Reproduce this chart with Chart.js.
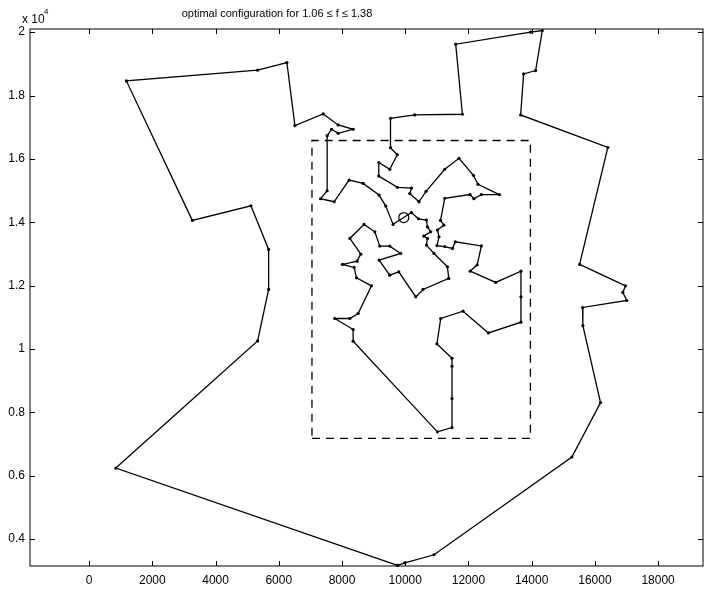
<!DOCTYPE html>
<html>
<head>
<meta charset="utf-8">
<script src="https://cdn.jsdelivr.net/npm/chart.js@4"></script>
<style>
html, body { margin: 0; padding: 0; background: #fff; }
</style>
</head>
<body>
<canvas id="chart" width="704" height="589"></canvas>
<script>
// tour through the cities, closed (last point = first point)
const tourX = [
    9755, 844, 5331, 5679, 5679, 5119, 3264, 1179, 5331, 6257,
    6510, 7404, 7878, 8352, 7878, 7669, 7530, 7530, 7322, 7751,
    8225, 8668, 9173, 9385, 9616, 10197, 10419, 10671, 10703, 10807,
    10586, 10703, 10671, 10911, 11335, 11376, 10564, 10333, 9796, 9512,
    9173, 9859, 9512, 9196, 9038, 8699, 8248, 8595, 8478, 8017,
    8383, 8459, 8933, 8510, 8248, 7774, 8352, 8352, 11019, 11480,
    11480, 11480, 11480, 11003, 11123, 11828, 12631, 13661, 13661, 13661,
    12861, 12055, 12277, 12409, 11581, 11496, 11250, 11003, 11069, 11019,
    11224, 11117, 11250, 12049, 12172, 12409, 12978, 12302, 12157, 11701,
    11250, 10659, 10434, 10144, 10200, 9755, 9164, 9164, 9512, 9749,
    9534, 9534, 10302, 11809, 11597, 13967, 14337, 14125, 13746, 13651,
    16410, 15516, 16969, 16884, 17010, 15610, 15620, 16179, 15272, 10911,
    9990, 9755
];
const tourY = [
    3167, 6241, 10255, 11879, 13143, 14521, 14059, 18461, 18799, 19039,
    17049, 17418, 17071, 16935, 16808, 16935, 16733, 14995, 14742, 14647,
    15333, 15228, 14859, 14511, 13933, 14306, 14110, 14069, 13857, 13699,
    13563, 13490, 13279, 13016, 12593, 12226, 11879, 11645, 12435, 12331,
    12805, 13016, 13247, 13247, 13699, 13933, 13490, 12994, 12773, 12669,
    12574, 12245, 11993, 11120, 10962, 10962, 10615, 10245, 7385, 7518,
    8434, 9455, 9708, 10160, 10962, 11193, 10507, 10845, 11645, 12457,
    12100, 12457, 12656, 13253, 13383, 13174, 13231, 13263, 13541, 13753,
    13911, 14059, 14754, 14874, 14742, 14874, 14874, 15200, 15481, 16018,
    15671, 14976, 14644, 14906, 15080, 15102, 15459, 15886, 15671, 16132,
    16353, 17282, 17387, 17409, 19621, 20000, 20051, 18787, 18682, 17387,
    16360, 12669, 11993, 11784, 11531, 11310, 10735, 8308, 6589, 3505,
    3250, 3167
];

// dashed inner region
const boxX = [7050, 13960, 13960, 7050, 7050];
const boxY = [7180, 7180, 16580, 16580, 7180];

// start city (circle marker)
const depotX = [9954];
const depotY = [14148];

const xTicks = [0, 2000, 4000, 6000, 8000, 10000, 12000, 14000, 16000, 18000];
const yTicks = [4000, 6000, 8000, 10000, 12000, 14000, 16000, 18000, 20000];
const yTickLabels = ['0.4', '0.6', '0.8', '1', '1.2', '1.4', '1.6', '1.8', '2'];

const titleText = 'optimal configuration for 1.06 \u2264 f \u2264 1.38';
const FONT = '"Liberation Sans", Arial, Helvetica, sans-serif';

const toPoints = (xs, ys) => xs.map((x, i) => ({ x: x, y: ys[i] }));

// MATLAB-like box with inward ticks, title and exponent label
const framePlugin = {
    id: 'frame',
    afterDraw(chart) {
        const ctx = chart.ctx;
        const a = chart.chartArea;
        const xs = chart.scales.x;
        const ys = chart.scales.y;
        const tl = 5;

        ctx.save();
        ctx.strokeStyle = '#000';
        ctx.lineWidth = 1;
        ctx.strokeRect(a.left, a.top, a.right - a.left, a.bottom - a.top);

        ctx.beginPath();
        xTicks.forEach(v => {
            const px = Math.round(xs.getPixelForValue(v)) + 0.5;
            ctx.moveTo(px, a.bottom);
            ctx.lineTo(px, a.bottom - tl);
            ctx.moveTo(px, a.top);
            ctx.lineTo(px, a.top + tl);
        });
        yTicks.forEach(v => {
            const py = Math.round(ys.getPixelForValue(v)) + 0.5;
            ctx.moveTo(a.left, py);
            ctx.lineTo(a.left + tl, py);
            ctx.moveTo(a.right, py);
            ctx.lineTo(a.right - tl, py);
        });
        ctx.stroke();

        ctx.fillStyle = '#000';
        ctx.textBaseline = 'alphabetic';
        ctx.textAlign = 'center';
        ctx.font = '11px ' + FONT;
        ctx.fillText(titleText, 277, 17);

        ctx.textAlign = 'left';
        ctx.font = '12px ' + FONT;
        ctx.fillText('x 10', 22, 23);
        ctx.font = '8px ' + FONT;
        ctx.fillText('4', 44, 14);
        ctx.restore();
    }
};

new Chart(document.getElementById('chart'), {
    type: 'scatter',
    data: {
        datasets: [
            {
                data: toPoints(tourX, tourY),
                showLine: true,
                borderColor: '#000',
                borderWidth: 1.3,
                pointRadius: 1.6,
                pointBackgroundColor: '#000',
                pointBorderWidth: 0,
                tension: 0,
                clip: false
            },
            {
                data: toPoints(boxX, boxY),
                showLine: true,
                borderColor: '#000',
                borderWidth: 1.3,
                borderDash: [8, 6],
                pointRadius: 0,
                tension: 0
            },
            {
                data: toPoints(depotX, depotY),
                pointRadius: 5,
                pointBackgroundColor: 'rgba(0,0,0,0)',
                pointBorderColor: '#000',
                pointBorderWidth: 1.2
            }
        ]
    },
    options: {
        responsive: false,
        animation: false,
        devicePixelRatio: 1,
        layout: {
            autoPadding: false,
            padding: { top: 29, right: 1, left: 0, bottom: 0 }
        },
        plugins: {
            legend: { display: false },
            tooltip: { enabled: false },
            title: { display: false }
        },
        scales: {
            x: {
                type: 'linear',
                min: -1870,
                max: 19420,
                afterBuildTicks: s => { s.ticks = xTicks.map(v => ({ value: v })); },
                afterFit: s => {
                    s.height = 23;
                    s.paddingLeft = 0;
                    s.paddingRight = 0;
                },
                grid: { display: false, drawTicks: false },
                border: { display: false },
                ticks: {
                    color: '#000',
                    padding: 7,
                    maxRotation: 0,
                    autoSkip: false,
                    font: { family: FONT, size: 12 },
                    callback: v => String(v)
                }
            },
            y: {
                type: 'linear',
                min: 3150,
                max: 20100,
                afterBuildTicks: s => { s.ticks = yTicks.map(v => ({ value: v })); },
                afterFit: s => {
                    s.width = 30;
                    s.paddingTop = 0;
                    s.paddingBottom = 0;
                },
                grid: { display: false, drawTicks: false },
                border: { display: false },
                ticks: {
                    color: '#000',
                    padding: 5,
                    autoSkip: false,
                    font: { family: FONT, size: 12 },
                    callback: v => yTickLabels[yTicks.indexOf(v)]
                }
            }
        }
    },
    plugins: [framePlugin]
});
</script>
</body>
</html>
